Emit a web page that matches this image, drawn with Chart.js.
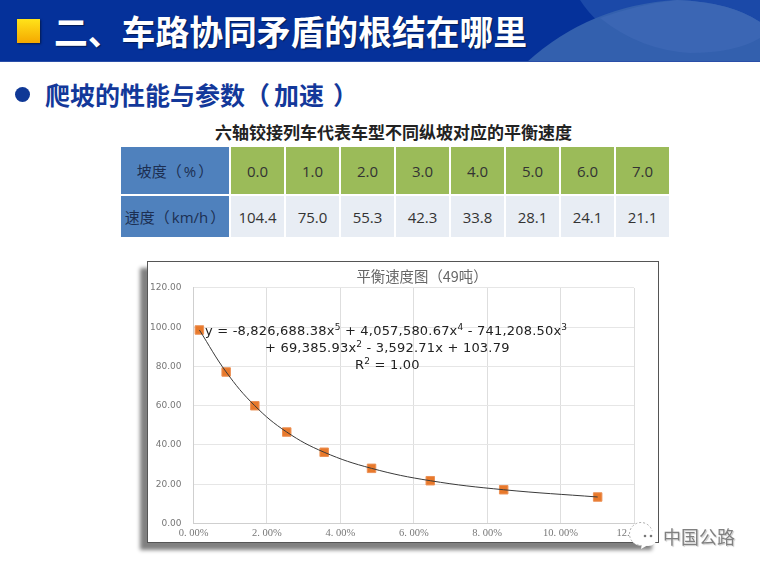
<!DOCTYPE html>
<html lang="zh">
<head>
<meta charset="utf-8">
<script src="https://cdn.jsdelivr.net/npm/chart.js@4"></script>
<style>
html,body{margin:0;padding:0;background:#fff;}
body{width:760px;height:570px;position:relative;overflow:hidden;font-family:"Noto Sans CJK SC","Noto Sans",sans-serif;}
.abs{position:absolute;white-space:nowrap;}
#head{left:0;top:0;width:760px;height:62px;}
#sq{left:17px;top:19px;width:23px;height:24px;background:linear-gradient(#ffe31a,#f5a800);box-shadow:1px 1px 2px rgba(0,0,0,.5);}
#h1{left:54px;top:10px;font-size:33.8px;line-height:42px;font-weight:700;color:#fff;text-shadow:1px 1px 1px rgba(0,0,0,.45);}
#dot{left:15px;top:87px;width:15px;height:15px;border-radius:50%;background:#0f3896;}
#h2{left:45px;top:76px;font-size:25px;line-height:36px;font-weight:700;color:#13389a;}
#h2 span{margin:0 9px 0 4px;}
#tt{left:121px;width:545px;text-align:center;top:121px;font-size:17px;line-height:22px;font-weight:700;color:#222;}
#tbl{left:119px;top:145px;border-collapse:separate;border-spacing:2px;table-layout:fixed;font-size:15px;color:#333;font-family:"Open Sans","Noto Sans CJK SC",sans-serif;}
#tbl td{padding:0;text-align:center;width:53px;}
#tbl tr:first-child td{height:47px;background:#9bbb59;}
#tbl tr:last-child td{height:41px;background:#e8edf4;}
#tbl td.h{width:108px !important;background:#4f81bd !important;color:#1c2f52;}
#tbl td.h span{margin:0 2px;}
#frame{left:147px;top:261px;width:510px;height:280px;background:#fff;border:1.5px solid #555;box-shadow:-7px 7px 4px #808080;}
#cv{position:absolute;left:148px;top:262px;}
.eq{position:absolute;font-family:"DejaVu Sans",sans-serif;font-size:13px;letter-spacing:.2px;line-height:17px;color:#222;white-space:nowrap;}
.eq sup{font-size:9px;line-height:0;vertical-align:5px;}
#wm{left:663px;top:523px;font-size:18px;line-height:26px;color:#808080;text-shadow:0 0 2px #fff,1px 1px 1px #bbb;}
#ic{left:628px;top:522px;width:32px;height:28px;}
</style>
</head>
<body>
<svg id="head" class="abs" viewBox="0 0 760 62">
  <rect width="760" height="62" fill="#05319a"/>
  <path d="M580,0 Q612,50 690,53 Q735,53 760,38 L760,0 Z" fill="#1b49a8"/>
  <path d="M527,62 Q590,5 677,0 Q730,2 760,22 L760,62 Z" fill="#3360ae"/>
  <path d="M600,18 Q640,4 677,0 Q730,2 760,22 L760,38 Q735,53 690,53 Q640,50 600,18 Z" fill="#3b66b4"/>
  <rect y="61" width="760" height="1" fill="#2a4ea8"/>
</svg>
<div id="sq" class="abs"></div>
<div id="h1" class="abs">二、车路协同矛盾的根结在哪里</div>
<div id="dot" class="abs"></div>
<div id="h2" class="abs">爬坡的性能与参数（<span>加速</span>）</div>
<div id="tt" class="abs">六轴铰接列车代表车型不同纵坡对应的平衡速度</div>
<table id="tbl" class="abs">
  <tr id="r1"></tr>
  <tr id="r2"></tr>
</table>
<div id="frame" class="abs"></div>
<canvas id="cv" width="510" height="280"></canvas>
<div class="eq" style="left:205px;top:322px;">y = -8,826,688.38x<sup>5</sup> + 4,057,580.67x<sup>4</sup> - 741,208.50x<sup>3</sup></div>
<div class="eq" style="left:265px;top:339px;">+ 69,385.93x<sup>2</sup> - 3,592.71x + 103.79</div>
<div class="eq" style="left:355px;top:356px;">R<sup>2</sup> = 1.00</div>
<svg id="ic" class="abs" viewBox="0 0 32 28">
  <circle cx="13" cy="12" r="11.5" fill="#fff" stroke="#aaa" stroke-width="1" stroke-dasharray="2 2"/>
  <ellipse cx="20" cy="16" rx="9" ry="8" fill="#fff"/>
  <path d="M14,21 L13,27 L20,23 Z" fill="#fff"/>
  <circle cx="17" cy="14" r="1.3" fill="#777"/>
  <circle cx="23" cy="14" r="1.3" fill="#777"/>
</svg>
<div id="wm" class="abs">中国公路</div>
<script>
const gradeHeader = "坡度（%）";
const speedHeader = "速度（km/h）";
const grades = ["0.0","1.0","2.0","3.0","4.0","5.0","6.0","7.0"];
const speeds = ["104.4","75.0","55.3","42.3","33.8","28.1","24.1","21.1"];
const chartTitle = "平衡速度图（49吨）";
const slopeValues = [0.16,0.89,1.67,2.54,3.56,4.85,6.45,8.45,11.01];
const speedValues = [98.6,77.2,60.0,46.6,36.3,28.1,21.8,17.2,13.5];
const xTickLabels = ["0. 00%","2. 00%","4. 00%","6. 00%","8. 00%","10. 00%","12. 00%"];
const yTickLabels = ["0.00","20.00","40.00","60.00","80.00","100.00","120.00"];

const spaced = t => t.replace('（','（<span>').replace('）','</span>）');
document.getElementById('r1').innerHTML = '<td class="h">'+spaced(gradeHeader)+'</td>'+grades.map(g=>'<td>'+g+'</td>').join('');
document.getElementById('r2').innerHTML = '<td class="h">'+spaced(speedHeader)+'</td>'+speeds.map(s=>'<td>'+s+'</td>').join('');

const points = slopeValues.map((x,i)=>({x:x,y:speedValues[i]}));
const shiftTitle = {id:'shiftTitle',afterLayout(c){c.titleBlock.left+=31;c.titleBlock.right+=31;}};
new Chart(document.getElementById('cv'),{
  type:'scatter',
  plugins:[shiftTitle],
  data:{datasets:[
    {label:'趋势线',data:points,showLine:true,tension:0.4,borderColor:'#3a3a3a',borderWidth:1,pointRadius:0,order:0},
    {label:'平衡速度',data:points,showLine:false,pointStyle:'rect',pointRadius:6,backgroundColor:'#e8792b',borderColor:'#ec9257',borderWidth:1,order:1}
  ]},
  options:{
    responsive:false,animation:false,devicePixelRatio:1,
    layout:{padding:{left:0,right:24,top:0,bottom:0}},
    plugins:{
      legend:{display:false},tooltip:{enabled:false},
      title:{display:true,text:chartTitle,color:'#666',align:'center',
        font:{size:14.4,weight:'normal',family:'"Noto Sans CJK SC",sans-serif'},padding:{top:6,bottom:2.7}}
    },
    scales:{
      x:{type:'linear',min:0,max:12,
        grid:{color:'#dedede',lineWidth:1,drawTicks:false},border:{color:'#cfcfcf'},
        afterFit(s){s.height=18.5;},
        ticks:{stepSize:2,color:'#777',padding:3,maxRotation:0,autoSkip:false,
          font:{size:10.5,family:'"Liberation Serif",serif'},
          callback:(v)=>xTickLabels[v/2]}},
      y:{type:'linear',min:0,max:120,
        grid:{color:'#e6e6e6',lineWidth:1,drawTicks:false},border:{color:'#cfcfcf'},
        afterFit(s){s.width=45.5;},
        ticks:{stepSize:20,color:'#777',padding:12,
          font:{size:9,family:'"DejaVu Sans",sans-serif'},
          callback:(v)=>yTickLabels[v/20]}}
    }
  }
});
</script>
</body>
</html>
